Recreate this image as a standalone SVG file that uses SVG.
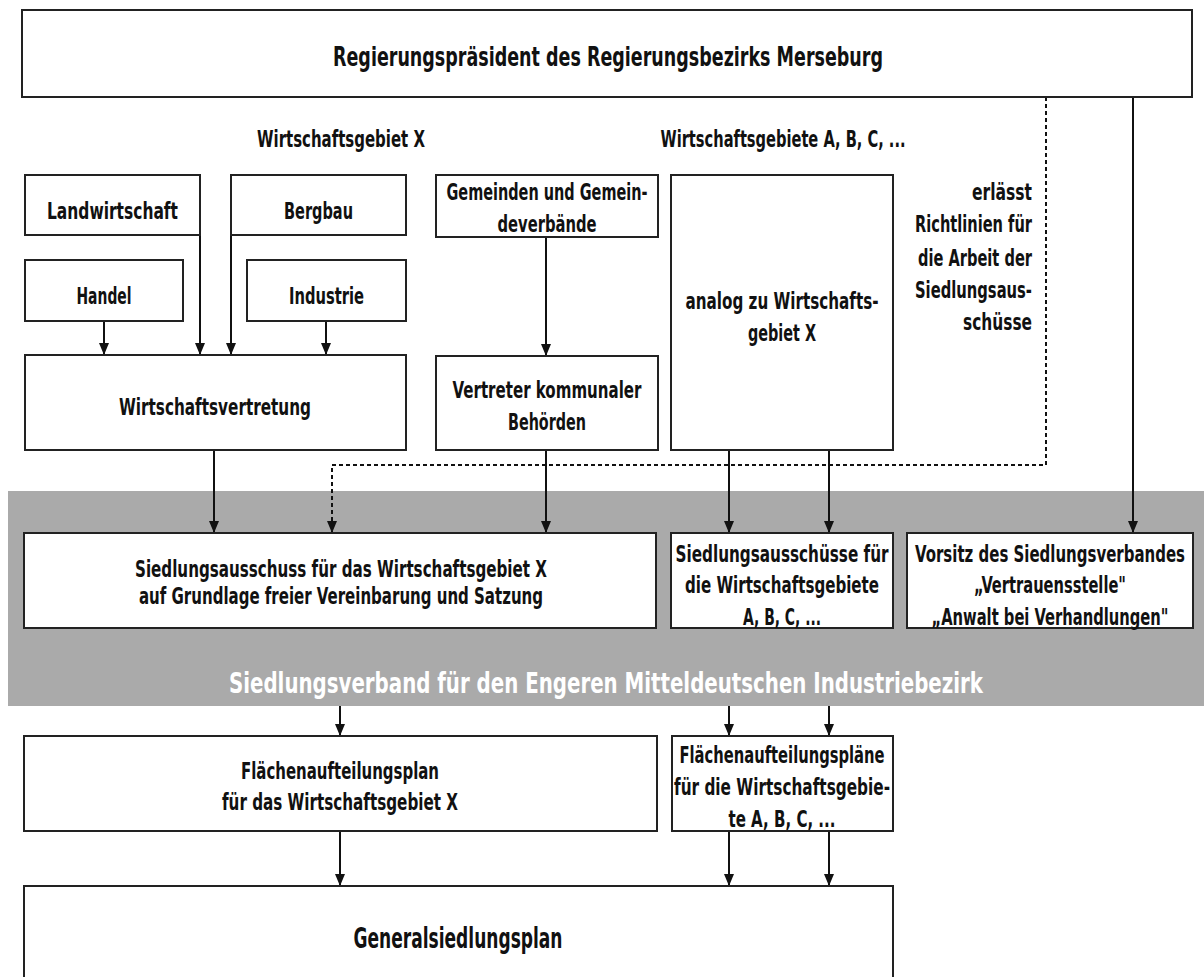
<svg xmlns="http://www.w3.org/2000/svg" width="1204" height="977" viewBox="0 0 1204 977">
<style>
.box{fill:#fff;stroke:#222;stroke-width:2}
.t{font-family:"DejaVu Sans Condensed","DejaVu Sans","Liberation Sans",sans-serif;font-weight:bold;font-size:23px;fill:#111;text-anchor:middle}
.r{text-anchor:end}
.ln{fill:none;stroke:#111;stroke-width:2}
.dot{fill:none;stroke:#111;stroke-width:2;stroke-dasharray:4 3}
</style>
<defs>
<marker id="ah" markerUnits="userSpaceOnUse" markerWidth="12" markerHeight="10" refX="12" refY="5" orient="auto" viewBox="0 0 12 10">
<path d="M0,0 L12,5 L0,10 z" fill="#111"/>
</marker>
</defs>
<rect id="band" x="8" y="491" width="1196" height="215" fill="#aaaaaa"/>
<text class="t" x="606" y="693" style="font-size:29px;fill:#fff" textLength="754" lengthAdjust="spacingAndGlyphs">Siedlungsverband für den Engeren Mitteldeutschen Industriebezirk</text>
<g id="connectors">
<line class="ln" x1="104" y1="321" x2="104" y2="355" marker-end="url(#ah)"/>
<line class="ln" x1="200" y1="235" x2="200" y2="355" marker-end="url(#ah)"/>
<line class="ln" x1="231" y1="235" x2="231" y2="355" marker-end="url(#ah)"/>
<line class="ln" x1="326" y1="321" x2="326" y2="355" marker-end="url(#ah)"/>
<line class="ln" x1="546" y1="237" x2="546" y2="356" marker-end="url(#ah)"/>
<line class="ln" x1="214" y1="450" x2="214" y2="533" marker-end="url(#ah)"/>
<line class="ln" x1="546" y1="450" x2="546" y2="533" marker-end="url(#ah)"/>
<line class="ln" x1="729" y1="450" x2="729" y2="533" marker-end="url(#ah)"/>
<line class="ln" x1="829" y1="450" x2="829" y2="533" marker-end="url(#ah)"/>
<path class="dot" d="M1046,97 V465 H332 V533" marker-end="url(#ah)"/>
<line class="ln" x1="1133" y1="97" x2="1133" y2="533" marker-end="url(#ah)"/>
<line class="ln" x1="340" y1="706" x2="340" y2="736" marker-end="url(#ah)"/>
<line class="ln" x1="729" y1="706" x2="729" y2="736" marker-end="url(#ah)"/>
<line class="ln" x1="829" y1="706" x2="829" y2="736" marker-end="url(#ah)"/>
<line class="ln" x1="340" y1="831" x2="340" y2="886" marker-end="url(#ah)"/>
<line class="ln" x1="729" y1="831" x2="729" y2="886" marker-end="url(#ah)"/>
<line class="ln" x1="829" y1="831" x2="829" y2="886" marker-end="url(#ah)"/>
</g>
<g id="regierung"><rect class="box" x="22" y="10" width="1170" height="87"/><text class="t" x="608" y="66" style="font-size:26px" textLength="550" lengthAdjust="spacingAndGlyphs">Regierungspräsident des Regierungsbezirks Merseburg</text></g>
<g id="label-x"><text class="t" x="341" y="147" textLength="168" lengthAdjust="spacingAndGlyphs">Wirtschaftsgebiet X</text></g>
<g id="label-abc"><text class="t" x="783" y="147" textLength="245" lengthAdjust="spacingAndGlyphs">Wirtschaftsgebiete A, B, C, ...</text></g>
<g id="landwirtschaft"><rect class="box" x="25" y="175" width="175" height="60"/><text class="t" x="112.5" y="219" textLength="131" lengthAdjust="spacingAndGlyphs">Landwirtschaft</text></g>
<g id="bergbau"><rect class="box" x="231" y="175" width="175" height="60"/><text class="t" x="318.5" y="219" textLength="69" lengthAdjust="spacingAndGlyphs">Bergbau</text></g>
<g id="handel"><rect class="box" x="25" y="260" width="158" height="61"/><text class="t" x="104" y="304" textLength="55" lengthAdjust="spacingAndGlyphs">Handel</text></g>
<g id="industrie"><rect class="box" x="247" y="260" width="159" height="61"/><text class="t" x="326.5" y="304" textLength="75" lengthAdjust="spacingAndGlyphs">Industrie</text></g>
<g id="wirtschaftsvertretung"><rect class="box" x="25" y="355" width="381" height="95"/><text class="t" x="215" y="415" textLength="192" lengthAdjust="spacingAndGlyphs">Wirtschaftsvertretung</text></g>
<g id="gemeinden"><rect class="box" x="436" y="175" width="222" height="62"/><text class="t" x="547" y="200" textLength="201" lengthAdjust="spacingAndGlyphs">Gemeinden und Gemein-</text><text class="t" x="547" y="232" textLength="99" lengthAdjust="spacingAndGlyphs">deverbände</text></g>
<g id="vertreter"><rect class="box" x="436" y="356" width="222" height="94"/><text class="t" x="547" y="398" textLength="189" lengthAdjust="spacingAndGlyphs">Vertreter kommunaler</text><text class="t" x="547" y="430" textLength="78" lengthAdjust="spacingAndGlyphs">Behörden</text></g>
<g id="analog"><rect class="box" x="671" y="175" width="222" height="275"/><text class="t" x="782" y="309" textLength="193" lengthAdjust="spacingAndGlyphs">analog zu Wirtschafts-</text><text class="t" x="782" y="341" textLength="68" lengthAdjust="spacingAndGlyphs">gebiet X</text></g>
<g id="richtlinien"><text class="t r" x="1032" y="200" textLength="60" lengthAdjust="spacingAndGlyphs">erlässt</text><text class="t r" x="1032" y="232" textLength="117" lengthAdjust="spacingAndGlyphs">Richtlinien für</text><text class="t r" x="1032" y="266" textLength="114" lengthAdjust="spacingAndGlyphs">die Arbeit der</text><text class="t r" x="1032" y="298" textLength="117" lengthAdjust="spacingAndGlyphs">Siedlungsaus-</text><text class="t r" x="1032" y="330" textLength="69" lengthAdjust="spacingAndGlyphs">schüsse</text></g>
<g id="ausschuss-x"><rect class="box" x="24" y="533" width="632" height="95"/><text class="t" x="341" y="577" textLength="412" lengthAdjust="spacingAndGlyphs">Siedlungsausschuss für das Wirtschaftsgebiet X</text><text class="t" x="341" y="604" textLength="404" lengthAdjust="spacingAndGlyphs">auf Grundlage freier Vereinbarung und Satzung</text></g>
<g id="ausschuesse-abc"><rect class="box" x="671" y="533" width="222" height="95"/><text class="t" x="782" y="562" textLength="213" lengthAdjust="spacingAndGlyphs">Siedlungsausschüsse für</text><text class="t" x="782" y="593" textLength="194" lengthAdjust="spacingAndGlyphs">die Wirtschaftsgebiete</text><text class="t" x="782" y="625" textLength="78" lengthAdjust="spacingAndGlyphs">A, B, C, ...</text></g>
<g id="vorsitz"><rect class="box" x="907" y="533" width="286" height="95"/><text class="t" x="1050" y="562" textLength="270" lengthAdjust="spacingAndGlyphs">Vorsitz des Siedlungsverbandes</text><text class="t" x="1050" y="593" textLength="152" lengthAdjust="spacingAndGlyphs">„Vertrauensstelle"</text><text class="t" x="1050" y="625" textLength="237" lengthAdjust="spacingAndGlyphs">„Anwalt bei Verhandlungen"</text></g>
<g id="flaechen-x"><rect class="box" x="24" y="736" width="633" height="95"/><text class="t" x="340" y="779" textLength="198" lengthAdjust="spacingAndGlyphs">Flächenaufteilungsplan</text><text class="t" x="340" y="810" textLength="236" lengthAdjust="spacingAndGlyphs">für das Wirtschaftsgebiet X</text></g>
<g id="flaechen-abc"><rect class="box" x="672" y="736" width="221" height="95"/><text class="t" x="782" y="763" textLength="205" lengthAdjust="spacingAndGlyphs">Flächenaufteilungspläne</text><text class="t" x="782" y="795" textLength="216" lengthAdjust="spacingAndGlyphs">für die Wirtschaftsgebie-</text><text class="t" x="782" y="827" textLength="107" lengthAdjust="spacingAndGlyphs">te A, B, C, ...</text></g>
<g id="general"><rect class="box" x="24" y="886" width="869" height="110"/><text class="t" x="458" y="948" style="font-size:28px" textLength="209" lengthAdjust="spacingAndGlyphs">Generalsiedlungsplan</text></g>
</svg>
